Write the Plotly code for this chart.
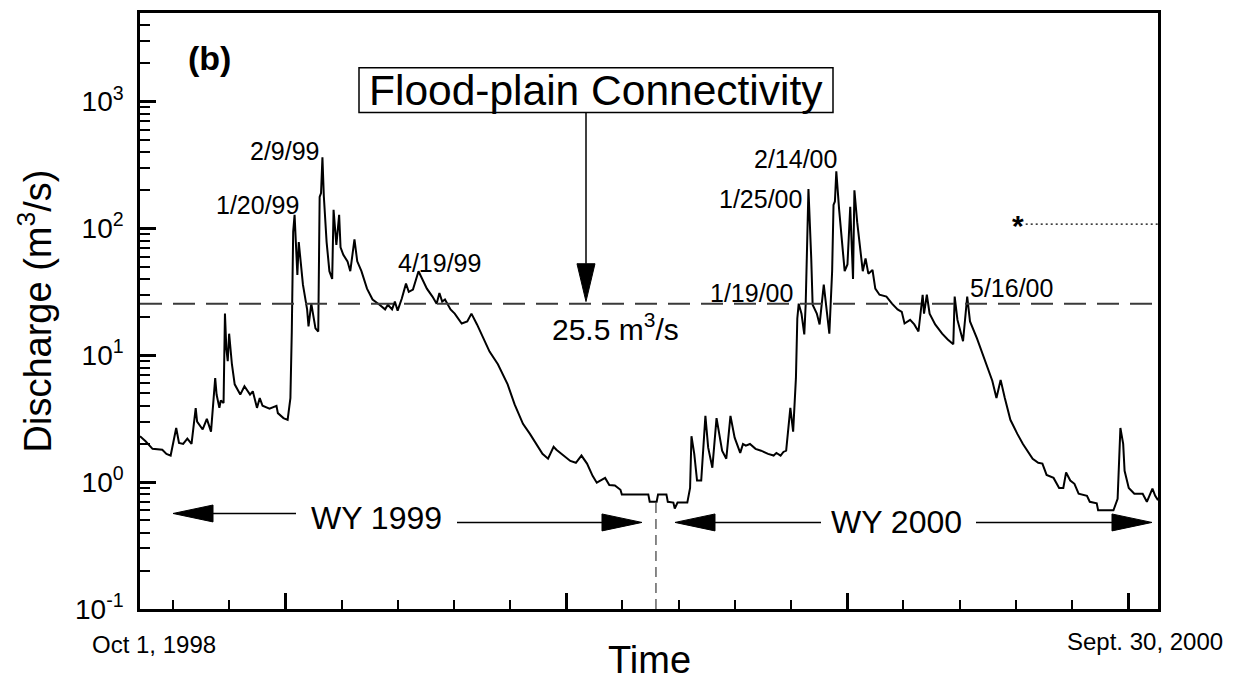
import plotly.graph_objects as go

# ---------------- data ----------------
START_DATE = "1998-10-01"          # day 0 of the record (Oct 1, 1998)
END_DAY = 731                      # Sept. 30, 2000 (end of record)

# day offset from START_DATE
days = [0, 4, 9, 16, 19, 22, 26, 28, 31, 34, 37, 40, 41, 45, 48, 51, 54, 55, 57, 58,
        60, 61, 62, 63, 64, 66, 68, 72, 75, 79, 81, 84, 86, 88, 93, 98, 99, 103, 106, 108,
        109, 110, 111, 112, 113, 114, 115, 117, 120, 121, 123, 124, 126, 128, 129, 130, 131, 132, 134, 136,
        138, 139, 141, 143, 144, 146, 149, 151, 154, 156, 159, 163, 167, 172, 176, 178, 181, 183, 185, 188,
        191, 193, 196, 200, 206, 210, 213, 215, 217, 219, 223, 226, 231, 235, 238, 242, 246, 251, 257, 264,
        269, 275, 280, 285, 289, 293, 297, 299, 304, 309, 313, 317, 321, 325, 328, 334, 337, 341, 345, 346,
        365, 366, 371, 372, 378, 379, 383, 384, 386, 393, 395, 396, 398, 400, 403, 406, 408, 411, 414, 418,
        421, 424, 427, 431, 433, 435, 438, 442, 446, 451, 455, 457, 460, 462, 464, 467, 469, 471, 472, 473,
        475, 477, 478, 480, 482, 483, 486, 488, 491, 493, 495, 497, 498, 499, 500, 502, 504, 506, 508, 510,
        512, 513, 515, 517, 519, 521, 523, 526, 528, 531, 536, 540, 544, 547, 549, 553, 556, 559, 562, 563,
        565, 567, 571, 576, 580, 584, 585, 587, 591, 594, 596, 601, 607, 612, 615, 618, 621, 625, 630, 634,
        641, 645, 648, 651, 656, 660, 663, 665, 668, 671, 674, 680, 682, 687, 688, 699, 702, 704, 706, 707,
        710, 714, 720, 723, 727, 729, 731]

# daily discharge, m3/s
discharge = [2.3, 2.1, 1.83, 1.8, 1.67, 1.62, 2.67, 2.04, 2.0, 2.2, 2.0, 3.84, 3.0, 2.6, 3.15, 2.5, 6.6, 4.9, 3.85, 4.4,
             4.2, 21.3, 11.3, 9.0, 14.8, 8.5, 5.9, 4.9, 5.7, 4.9, 5.2, 3.85, 4.6, 4.0, 3.8, 4.0, 3.5, 3.2, 3.1, 4.6,
             15.4, 94, 128, 78, 43, 78, 58, 36, 23, 16.9, 25.5, 22, 16.3, 15.4, 177, 190, 363, 180, 78, 46,
             40, 140, 74, 128, 71, 62, 55, 46, 82, 55, 46, 33.5, 27.5, 25, 23, 25, 23, 26.5, 22.5, 28,
             36.7, 31.6, 33, 46, 33.5, 29, 25.5, 31, 26.5, 27.5, 23, 21.3, 17.8, 18.5, 21.3, 17.5, 14.1, 10.7, 8.5, 5.9,
             4.1, 2.88, 2.4, 1.94, 1.67, 1.53, 1.9, 1.8, 1.62, 1.47, 1.42, 1.62, 1.4, 1.12, 0.99, 1.08, 0.95, 0.94, 0.87, 0.8,
             0.8, 0.7, 0.7, 0.8, 0.8, 0.7, 0.69, 0.62, 0.69, 0.69, 0.9, 2.3, 1.67, 1.03, 1.03, 3.33, 1.87, 1.3, 3.2, 1.77,
             1.53, 3.33, 2.24, 1.7, 2.0, 1.94, 2.0, 1.83, 1.77, 1.67, 1.62, 1.7, 1.62, 1.73, 1.77, 3.85, 2.5, 6.6, 19.5, 25.5,
             21.3, 14.6, 25, 204, 58, 25, 21.3, 17.5, 36, 22, 14.8, 46, 153, 163, 282, 142, 78, 46, 52, 148,
             40, 200, 112, 74, 46, 58, 44, 47, 33.5, 30, 29, 25.5, 23, 22, 17.8, 19, 17.5, 15.4, 30, 21.3,
             30, 21.3, 17.5, 14.8, 13.3, 12.2, 29, 19, 12.9, 29, 18.5, 13.6, 9.0, 6.3, 4.6, 6.4, 4.6, 3.1, 2.4, 2.0,
             1.53, 1.42, 1.4, 1.14, 1.08, 0.9, 0.9, 1.19, 1.03, 0.97, 0.81, 0.78, 0.7, 0.68, 0.6, 0.6, 0.74, 2.67, 2.0, 1.23,
             0.9, 0.81, 0.81, 0.7, 0.89, 0.78, 0.72]

THRESHOLD = 25.5                     # flood-plain connectivity threshold, m3/s
WY_BOUNDARY_DAY = 370.5              # dashed separator between water years
STAR_LEVEL = 108                     # level marked by the asterisk
STAR_DAY = 636

peak_labels = ["1/20/99", "2/9/99", "4/19/99", "1/19/00", "1/25/00", "2/14/00", "5/16/00"]
ytick_vals = [0.1, 1, 10, 100, 1000]
ytick_text = ["10<sup>-1</sup>", "10<sup>0</sup>", "10<sup>1</sup>", "10<sup>2</sup>", "10<sup>3</sup>"]
x_start_label = "Oct 1, 1998"
x_end_label = "Sept. 30, 2000"
wy_labels = ["WY 1999", "WY 2000"]

# ---------------- layout geometry ----------------
W, H = 1236, 683
PL, PR, PT, PB = 140, 1158, 10, 609
FONT = "Liberation Sans, Arial, Helvetica, sans-serif"


def xp(x):
    return (x - PL) / (PR - PL)


def yp(y):
    return (PB - y) / (PB - PT)


fig = go.Figure()

fig.add_trace(go.Scatter(x=days, y=discharge, mode="lines",
                         line=dict(color="black", width=2), showlegend=False,
                         hoverinfo="x+y"))
fig.add_trace(go.Scatter(x=[0, END_DAY], y=[THRESHOLD, THRESHOLD], mode="lines",
                         line=dict(color="#3a3a3a", width=2, dash="22px,11px"),
                         showlegend=False))
fig.add_trace(go.Scatter(x=[WY_BOUNDARY_DAY, WY_BOUNDARY_DAY], y=[0.1, 0.75], mode="lines",
                         line=dict(color="#3a3a3a", width=1.2, dash="10px,6px"),
                         showlegend=False))
fig.add_trace(go.Scatter(x=[STAR_DAY, END_DAY], y=[STAR_LEVEL, STAR_LEVEL], mode="lines",
                         line=dict(color="black", width=1.4, dash="2px,3px"),
                         showlegend=False))

annotations = []


def text(s, x, y, size, bold=False, angle=0, xanchor="center"):
    annotations.append(dict(text=f"<b>{s}</b>" if bold else s, x=xp(x), y=yp(y),
                            xref="paper", yref="paper", showarrow=False,
                            xanchor=xanchor, yanchor="middle", textangle=angle,
                            font=dict(family=FONT, size=size, color="black")))


peak_label_xy = [(257, 203), (285, 149), (439, 261), (751, 291), (760, 197), (795, 157), (1011, 286)]
for lab, (x, y) in zip(peak_labels, peak_label_xy):
    text(lab, x, y, 25)

text("(b)", 209, 55, 34, bold=True)
text("Flood-plain Connectivity", 596, 88, 42.5)
text("25.5 m<sup>3</sup>/s", 615, 326, 30)
text(wy_labels[0], 376, 518, 32)
text(wy_labels[1], 896, 522, 32)
text("<b>*</b>", 1018, 224, 30)
text(x_start_label, 154, 645, 24)
text(x_end_label, 1145, 642, 24)
text("Time", 649, 660, 38)
text("Discharge (m<sup>3</sup>/s)", 36, 310, 38, angle=-90)

shapes = []


def pline(x0, y0, x1, y1, w=1.5):
    shapes.append(dict(type="line", xref="paper", yref="paper", x0=xp(x0), y0=yp(y0),
                       x1=xp(x1), y1=yp(y1), line=dict(color="black", width=w)))


def phead(tip, base, half):
    (tx, ty), (bx, by) = tip, base
    if tx == bx:  # vertical
        pts = [(bx - half, by), (bx + half, by), (tx, ty)]
    else:
        pts = [(bx, by - half), (bx, by + half), (tx, ty)]
    path = "M " + " L ".join(f"{xp(a):.5f},{yp(b):.5f}" for a, b in pts) + " Z"
    shapes.append(dict(type="path", xref="paper", yref="paper", path=path,
                       fillcolor="black", line=dict(color="black", width=1)))


# boxed label
shapes.append(dict(type="rect", xref="paper", yref="paper", x0=xp(359), y0=yp(110), x1=xp(833), y1=yp(65),
                   line=dict(color="black", width=1.5), fillcolor="rgba(0,0,0,0)"))
# vertical arrow down to threshold
pline(586, 110, 586, 262)
phead((586, 300), (586, 262), 9)
# WY 1999 arrows
pline(213, 513, 296, 513)
phead((173, 513), (213, 513), 8.5)
pline(457, 522, 602, 522)
phead((642, 522), (602, 522), 8.5)
# WY 2000 arrows
pline(715, 522, 821, 522)
phead((675, 522), (715, 522), 8.5)
pline(976, 522, 1112, 522)
phead((1152, 522), (1112, 522), 8.5)

minor_y = [m * 10 ** e for e in range(-1, 4) for m in range(2, 10) if m * 10 ** e < 5000]

fig.update_layout(
    width=W, height=H,
    margin=dict(l=PL, r=W - PR, t=PT, b=H - PB),
    paper_bgcolor="white", plot_bgcolor="white",
    showlegend=False,
    annotations=annotations,
    shapes=shapes,
    xaxis=dict(range=[0, END_DAY], showgrid=False, zeroline=False,
               showline=True, linecolor="black", linewidth=2.5, mirror=True,
               tickmode="linear", tick0=104.4, dtick=201.7,
               ticks="inside", ticklen=16, tickwidth=2.5, tickcolor="black",
               showticklabels=False,
               minor=dict(tickmode="linear", tick0=23.7, dtick=40.34, ticks="inside",
                          ticklen=9, tickwidth=1.5, tickcolor="black", showgrid=False)),
    yaxis=dict(type="log", range=[-1, 3.698], showgrid=False, zeroline=False,
               showline=True, linecolor="black", linewidth=2.5, mirror=True,
               tickmode="array", tickvals=ytick_vals, ticktext=ytick_text,
               ticks="inside", ticklen=16, tickwidth=2.5, tickcolor="black",
               ticklabelstandoff=8,
               tickfont=dict(family=FONT, size=28, color="black"),
               minor=dict(tickmode="array", tickvals=minor_y, ticks="inside",
                          ticklen=10, tickwidth=1.5, tickcolor="black", showgrid=False)),
)

fig.write_html("out.html", config={"displayModeBar": False},
               post_script="document.body.style.margin='0';document.body.style.padding='0';")
